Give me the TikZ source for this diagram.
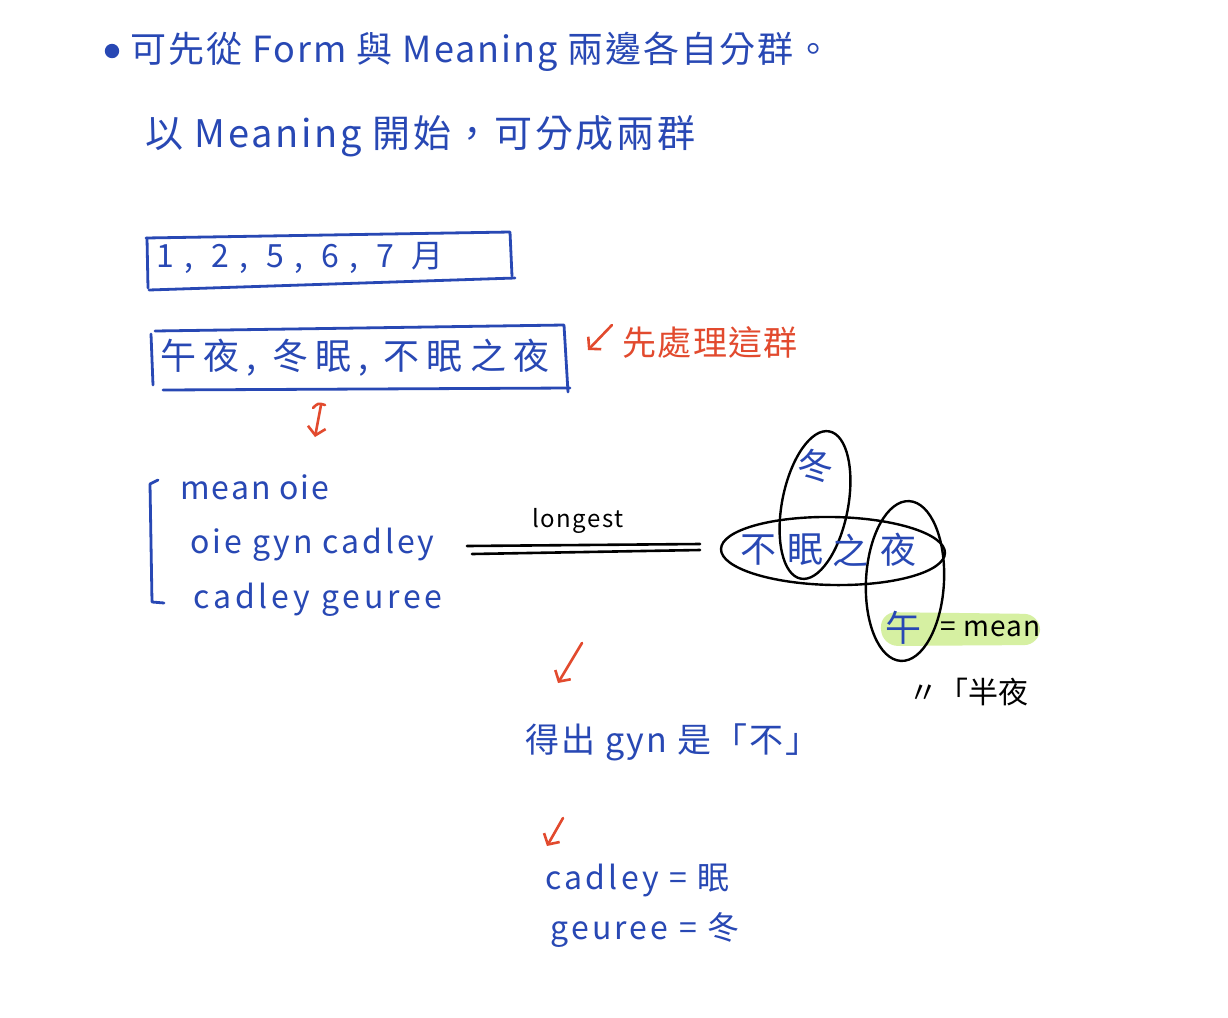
\documentclass[tikz,border=0pt]{standalone}
\usepackage{fontspec}
\setmainfont{Noto Sans CJK TC}
\usetikzlibrary{shapes.geometric,arrows.meta}
\definecolor{ink}{RGB}{40,72,180}
\definecolor{redink}{RGB}{226,74,46}
\definecolor{hl}{RGB}{214,240,162}
\newcommand{\fsz}[1]{\fontsize{#1pt}{#1pt}\selectfont}
\newcommand{\lsp}[1]{\addfontfeatures{LetterSpace=#1}}
\begin{document}
\begin{tikzpicture}[x=0.5pt,y=-0.5pt,
  txt/.style={inner sep=0pt, anchor=west, text=ink},
  blk/.style={inner sep=0pt, anchor=west, text=black},
  rtxt/.style={inner sep=0pt, anchor=west, text=redink},
  boxline/.style={draw=ink, line width=1.4pt, line cap=round, line join=round},
  oval/.style={ellipse, draw=black, line width=1.2pt, inner sep=0pt},
  redarrow/.style={draw=redink, line width=1.3pt, line cap=round, -{Straight Barb[length=4pt,width=9pt,line width=1.3pt]}},
  dbl/.style={draw=black, line width=1.3pt, line cap=round}]
\fill[white] (0,0) rectangle (1228,1018);
\useasboundingbox (0,0) rectangle (1228,1018);

% heading lines
\fill[ink] (112,51) circle (3.6pt);
\node[txt] (l1) at (130,52) {\fsz{18}\lsp{5.5}可先從 Form 與 Meaning 兩邊各自分群。};
\node[txt] (l2) at (145,136) {\fsz{19}\lsp{7}以 Meaning 開始，可分成兩群};

% box 1
\node[txt] (b1) at (156,258) {\fsz{16}\lsp{33}1, 2, 5, 6, 7 月};
\draw[boxline] (146,238) -- (510,232) -- (512,276);
\draw[boxline] (147,238) -- (148,288);
\draw[boxline] (149,290) -- (515,278);

% box 2
\node[txt] (b2) at (160,358) {\fsz{18}\lsp{20}午夜, 冬眠, 不眠之夜};
\draw[boxline] (155,331) -- (564,325) -- (568,392);
\draw[boxline] (151,334) -- (153,385);
\draw[boxline] (163,390) -- (570,388);

% red note
\coordinate (r1s) at (612,325);
\coordinate (r1e) at (588,350);
\draw[redarrow] (r1s) -- (r1e);
\node[rtxt] (note) at (622,342) {\fsz{17}\lsp{4}先處理這群};

% red down arrow
\coordinate (r2s) at (321,405);
\coordinate (r2e) at (315,437);
\draw[draw=redink, line width=1.3pt, line cap=round] (313,408) .. controls (318,403) .. (325,405);
\draw[redarrow] (r2s) -- (r2e);

% bracket list
\draw[boxline] (158,480) -- (150,484) -- (152,602) -- (164,603);
\node[txt] (m1) at (180,487) {\fsz{16}\lsp{6}mean oie};
\node[txt] (m2) at (190,545) {\fsz{16}\lsp{9}oie gyn cadley};
\node[txt] (m3) at (193,600) {\fsz{16}\lsp{12}cadley geuree};

% longest
\coordinate (d1a) at (467,546);
\coordinate (d1b) at (700,544);
\coordinate (d2a) at (472,554);
\coordinate (d2b) at (700,550);
\draw[dbl] (d1a) -- (d1b);
\draw[dbl] (d2a) -- (d2b);
\node[blk] (lg) at (532,521) {\fsz{12}\lsp{6}longest};

% venn ovals
\fill[hl, rounded corners=8pt] (880,612) -- (1040,614) -- (1040,645) -- (882,646) -- cycle;
\node[oval, minimum width=33pt, minimum height=75pt, rotate=-11] (ov1) at (815,505) {};
\node[oval, minimum width=112pt, minimum height=34pt, rotate=-1] (ov2) at (833,551) {};
\node[oval, minimum width=39pt, minimum height=80pt, rotate=-3] (ov3) at (905,581) {};
\node[inner sep=0pt, text=ink] (c1) at (815,466) {\fsz{18}冬};
\node[inner sep=0pt, text=ink] (c2) at (758,550) {\fsz{18}不};
\node[inner sep=0pt, text=ink] (c3) at (805,550) {\fsz{18}眠};
\node[inner sep=0pt, text=ink] (c4) at (850,550) {\fsz{18}之};
\node[inner sep=0pt, text=ink] (c5) at (898,550) {\fsz{18}夜};
\node[inner sep=0pt, text=ink] (c6) at (903,628) {\fsz{18}午};
\node[blk] (eqm) at (940,629) {\fsz{14}\lsp{4}= mean};
\node[blk] (same) at (908,692) {\fsz{15}〃「半夜};

% result lines
\coordinate (r3s) at (582,643);
\coordinate (r3e) at (558,683);
\draw[redarrow] (r3s) -- (r3e);
\node[txt] (res1) at (525,742) {\fsz{17}\lsp{6}得出 gyn 是「不」};
\coordinate (r4s) at (563,818);
\coordinate (r4e) at (547,846);
\draw[redarrow] (r4s) -- (r4e);
\node[txt] (res2) at (545,880) {\fsz{16}\lsp{10}cadley = 眠};
\node[txt] (res3) at (550,930) {\fsz{16}\lsp{10}geuree = 冬};
\end{tikzpicture}
\end{document}
